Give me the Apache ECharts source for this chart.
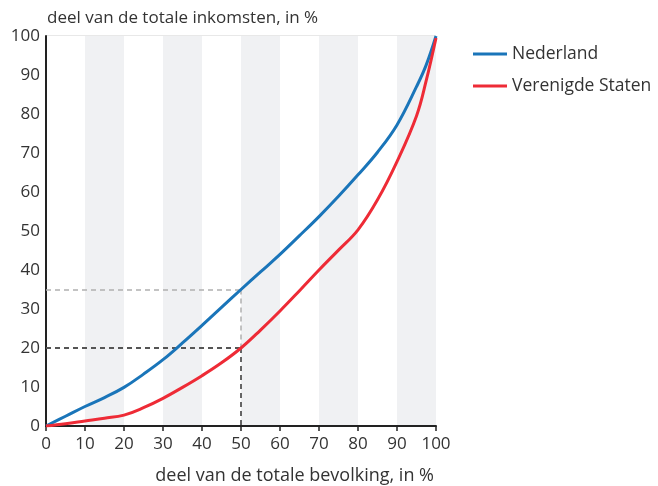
<!DOCTYPE html>
<html>
<head>
<meta charset="utf-8">
<script src="https://cdn.jsdelivr.net/npm/echarts@6/dist/echarts.min.js"></script>
<style>
html,body{margin:0;padding:0;background:#fff;}
#main{width:658px;height:486px;}
</style>
</head>
<body>
<div id="main"></div>
<script>
// aandeel bevolking (x) en aandeel inkomen (y)
var bevolking = [0, 5, 10, 15, 20, 25, 30, 35, 40, 45, 50, 55, 60, 65, 70, 75, 80, 85, 90, 95, 97.5, 100];
var nederland = [0, 2.5, 5, 7.3, 9.9, 13.3, 17, 21.3, 25.8, 30.4, 35, 39.5, 44, 48.8, 53.7, 58.9, 64.4, 70.2, 77.2, 87, 92.6, 100];
var verenigdeStaten = [0, 0.6, 1.3, 2, 2.8, 4.7, 7.1, 9.9, 12.9, 16.2, 20, 24.6, 29.5, 34.7, 40, 45.1, 50.3, 58, 67.8, 79.5, 88.6, 99.5];
var xTicks = [0, 10, 20, 30, 40, 50, 60, 70, 80, 90, 100];
// hulplijnen bij 50% van de bevolking
var hulpNL = [[0, 35], [50, 35], [50, 20]];
var hulpVS = [[0, 20], [50, 20], [50, 0]];

function pairs(xs, ys){
	var out = [];
	for(var i=0;i<xs.length;i++){
		out.push([xs[i], ys[i]]);
	}
	return out;
}

function polyline(pts){
	var segs = [];
	for(var i=0;i<pts.length-1;i++){
		segs.push([{coord:pts[i]},{coord:pts[i+1]}]);
	}
	return segs;
}

var txt = '#333333';
var fnt = '"Open Sans", "Noto Sans", sans-serif';

var myChart = echarts.init(document.getElementById('main'));
var option = {
	animation:false,
	textStyle:{fontFamily:fnt},
	title:[
		{text:'deel van de totale inkomsten, in %', left:42, top:5,
		 textStyle:{fontSize:17, fontWeight:'normal', color:txt, fontFamily:fnt}},
		{text:'deel van de totale bevolking, in %', right:219, top:462,
		 textStyle:{fontSize:18, fontWeight:'normal', color:txt, fontFamily:fnt}}
	],
	legend:{
		orient:'vertical',
		left:468, top:40,
		icon:'rect',
		itemWidth:34, itemHeight:3, itemGap:14,
		textStyle:{fontSize:17.5, color:txt, fontFamily:fnt},
		data:['Nederland','Verenigde Staten']
	},
	grid:{left:46, right:222, top:36, bottom:60, containLabel:false},
	xAxis:{
		type:'value', min:0, max:100, interval:10,
		axisLine:{show:true, lineStyle:{color:'#222', width:2}},
		axisTick:{show:true, length:5, lineStyle:{color:'#222', width:1.5}},
		axisLabel:{fontSize:17, color:txt, margin:10, fontFamily:fnt,
			formatter:function(v){ return xTicks.indexOf(v)>=0 ? String(v) : ''; }},
		splitLine:{show:false},
		splitArea:{show:true, areaStyle:{color:['#ffffff','#f0f1f3']}}
	},
	yAxis:{
		type:'value', min:0, max:100, interval:10,
		axisLine:{show:true, lineStyle:{color:'#222', width:2}},
		axisTick:{show:false},
		axisLabel:{fontSize:17, color:txt, margin:6, fontFamily:fnt},
		splitLine:{show:true, lineStyle:{color:'#e0e0e0', width:1.5}}
	},
	series:[
		{
			name:'Nederland', type:'line', smooth:0.4, symbol:'none',
			data:pairs(bevolking, nederland),
			lineStyle:{color:'#1a75b9', width:3},
			itemStyle:{color:'#1a75b9'},
			z:5,
			markLine:{
				silent:true, symbol:'none', animation:false,
				label:{show:false},
				lineStyle:{type:[5,4], color:'#b0b0b0', width:1.5},
				data:polyline(hulpNL)
			}
		},
		{
			name:'Verenigde Staten', type:'line', smooth:0.4, symbol:'none',
			data:pairs(bevolking, verenigdeStaten),
			lineStyle:{color:'#ee2b36', width:3},
			itemStyle:{color:'#ee2b36'},
			z:5,
			markLine:{
				silent:true, symbol:'none', animation:false,
				label:{show:false},
				lineStyle:{type:[5,4], color:'#555555', width:1.8},
				data:polyline(hulpVS)
			}
		}
	]
};
myChart.setOption(option);
</script>
</body>
</html>
